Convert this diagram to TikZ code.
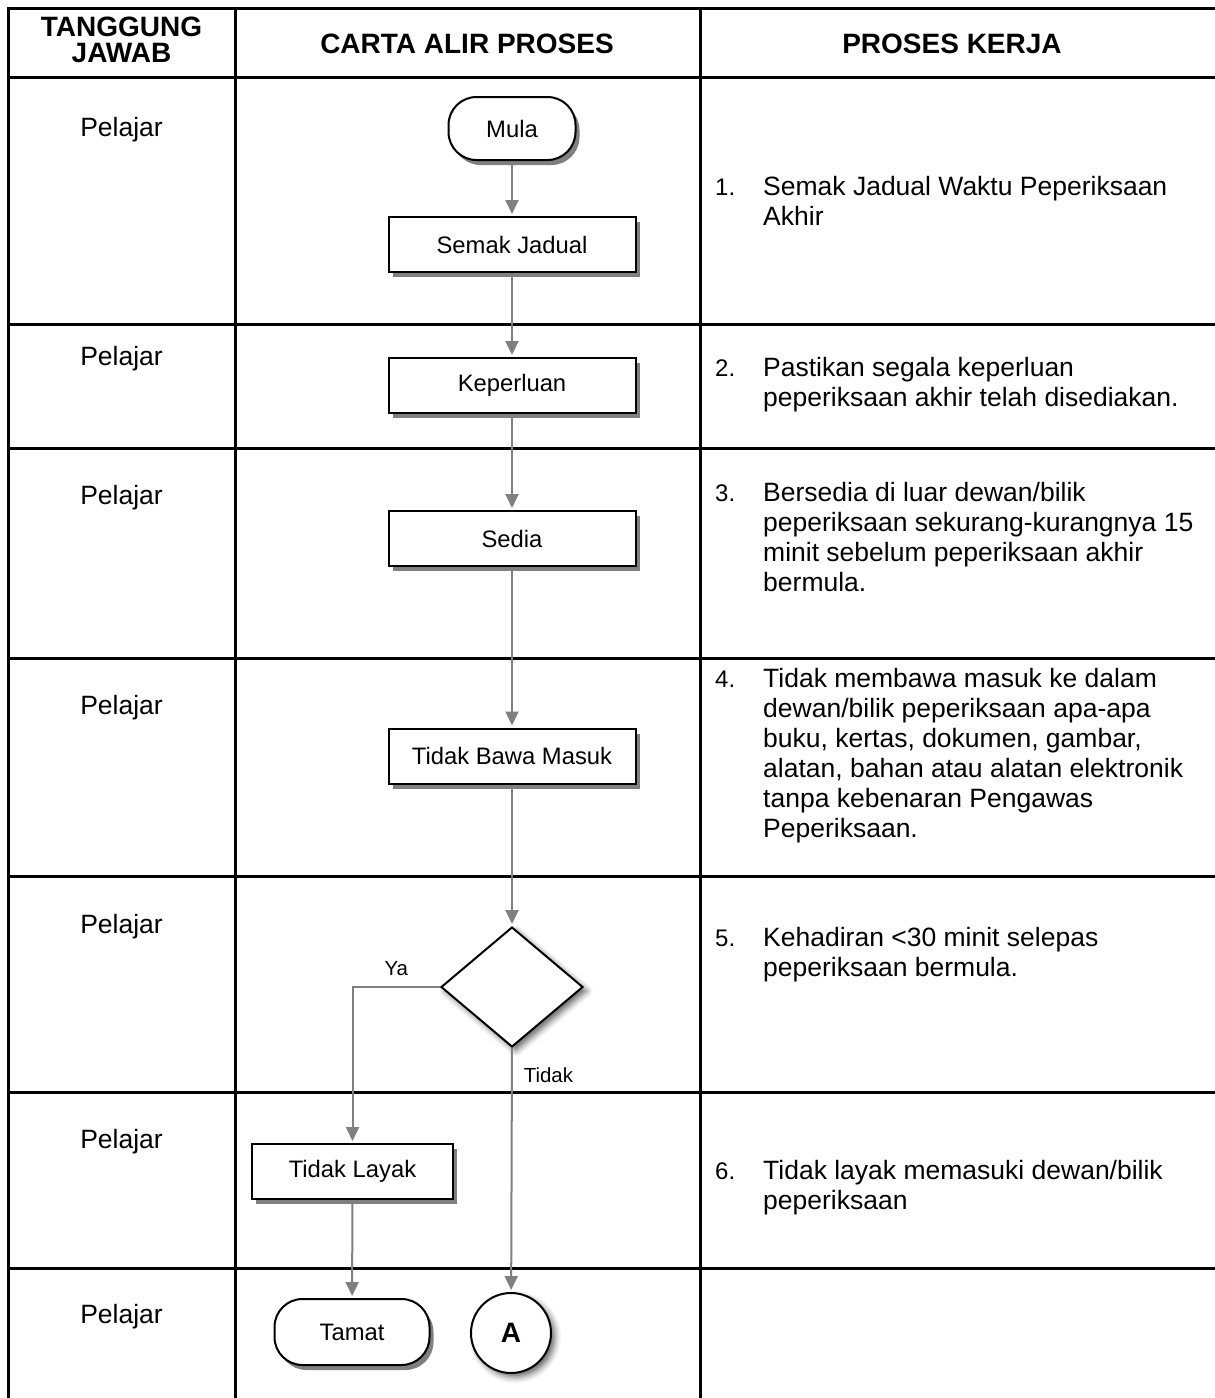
\documentclass[tikz,border=0pt]{standalone}
\usepackage{fontspec}
\setmainfont{Liberation Sans}
\usetikzlibrary{positioning,arrows.meta}
\usetikzlibrary{shapes.geometric}
\usetikzlibrary{shadows,shadows.blur}

\begin{document}
\begin{tikzpicture}[x=1pt, y=-1pt]
	\useasboundingbox (0,0) rectangle (1215,1398);
	\tikzstyle{every node}=[inner sep=0pt, font=\fontsize{26.5}{30}\selectfont]
	\tikzstyle{tableline}=[line width=3pt, line cap=rect]
	\tikzstyle{flowbox}=[draw, line width=2pt, fill=white, minimum width=247pt, minimum height=55pt, font=\fontsize{23.8}{28}\selectfont, drop shadow={shadow xshift=4pt, shadow yshift=-5pt, opacity=1, fill=black!50}]
	\tikzstyle{terminal}=[flowbox, rounded corners=28pt, minimum width=127pt, minimum height=63pt]
	\tikzstyle{softshadow}=[blur shadow={shadow xshift=4pt, shadow yshift=-4pt, shadow blur radius=6pt, shadow opacity=60}]
	\tikzstyle{flowline}=[draw=black!50, line width=2pt, shorten >=2pt, -{Triangle[length=14pt, width=13pt]}]
	\tikzstyle{flowlabel}=[font=\fontsize{20.4}{24}\selectfont]
	\foreach \y in {8,77,324,448,658,876,1092,1268}
		\draw [tableline] (8,\y) -- (1215,\y);
	\foreach \x in {8,235,700}
		\draw [tableline] (\x,8) -- (\x,1398);
	\draw (121.5,62) node (hTanggung) [anchor=base, align=center, font=\bfseries\fontsize{28}{26}\selectfont] {TANGGUNG\\JAWAB};
	\draw (467,53) node (hCarta) [anchor=base, font=\bfseries\fontsize{28}{32}\selectfont] {CARTA ALIR PROSES};
	\draw (952,53) node (hProses) [anchor=base, font=\bfseries\fontsize{28}{32}\selectfont] {PROSES KERJA};
	\foreach \y [count=\i] in {136,365,504,714,933,1148,1323}
		\draw (121.5,\y) node (pelajar\i) [anchor=base] {Pelajar};
	\draw (512,128.5) node (mula) [terminal] {Mula};
	\draw (512,244.5) node (semak) [flowbox] {Semak Jadual};
	\draw (512,385.5) node (keperluan) [flowbox] {Keperluan};
	\draw (512,538.5) node (sedia) [flowbox] {Sedia};
	\draw (512,756) node (bawa) [flowbox] {Tidak Bawa Masuk};
	\draw (512,987) node (hadir) [diamond, draw, line width=2pt, fill=white, minimum width=142pt, minimum height=120pt, softshadow] {};
	\draw (352.5,1171.5) node (layak) [flowbox, minimum width=201pt] {Tidak Layak};
	\draw (352,1332) node (tamat) [terminal, minimum width=155pt, minimum height=66pt] {Tamat};
	\draw (511,1333) node (sambungA) [circle, draw, line width=2pt, fill=white, minimum size=80pt, font=\bfseries\fontsize{28}{32}\selectfont, softshadow] {A};
	\draw [flowline] (mula) to (semak);
	\draw [flowline] (semak) to (keperluan);
	\draw [flowline] (keperluan) to (sedia);
	\draw [flowline] (sedia) to (bawa);
	\draw [flowline] (bawa) to (hadir);
	\draw [flowline] (hadir.west) -| node[flowlabel, above=10pt, pos=0.25] {Ya} (layak.north);
	\draw [flowline] (hadir.south) to node[flowlabel, right=11pt, pos=0.11] {Tidak} (sambungA);
	\draw [flowline] (layak) to (tamat);
	\tikzstyle{every node}=[inner sep=0pt, anchor=base west, align=left, font=\fontsize{26.5}{30}\selectfont]
	\tikzstyle{listno}=[font=\fontsize{24}{30}\selectfont]
	\draw (715,195) node (no1) [listno] {1.};
	\draw (763,225) node (kerja1) {Semak Jadual Waktu Peperiksaan\\Akhir};
	\draw (715,376) node (no2) [listno] {2.};
	\draw (763,406) node (kerja2) {Pastikan segala keperluan\\peperiksaan akhir telah disediakan.};
	\draw (715,501) node (no3) [listno] {3.};
	\draw (763,591) node (kerja3) {Bersedia di luar dewan/bilik\\peperiksaan sekurang-kurangnya 15\\minit sebelum peperiksaan akhir\\bermula.};
	\draw (715,687) node (no4) [listno] {4.};
	\draw (763,837) node (kerja4) {Tidak membawa masuk ke dalam\\dewan/bilik peperiksaan apa-apa\\buku, kertas, dokumen, gambar,\\alatan, bahan atau alatan elektronik\\tanpa kebenaran Pengawas\\Peperiksaan.};
	\draw (715,946) node (no5) [listno] {5.};
	\draw (763,976) node (kerja5) {Kehadiran <30 minit selepas\\peperiksaan bermula.};
	\draw (715,1179) node (no6) [listno] {6.};
	\draw (763,1209) node (kerja6) {Tidak layak memasuki dewan/bilik\\peperiksaan};
\end{tikzpicture}
\end{document}
